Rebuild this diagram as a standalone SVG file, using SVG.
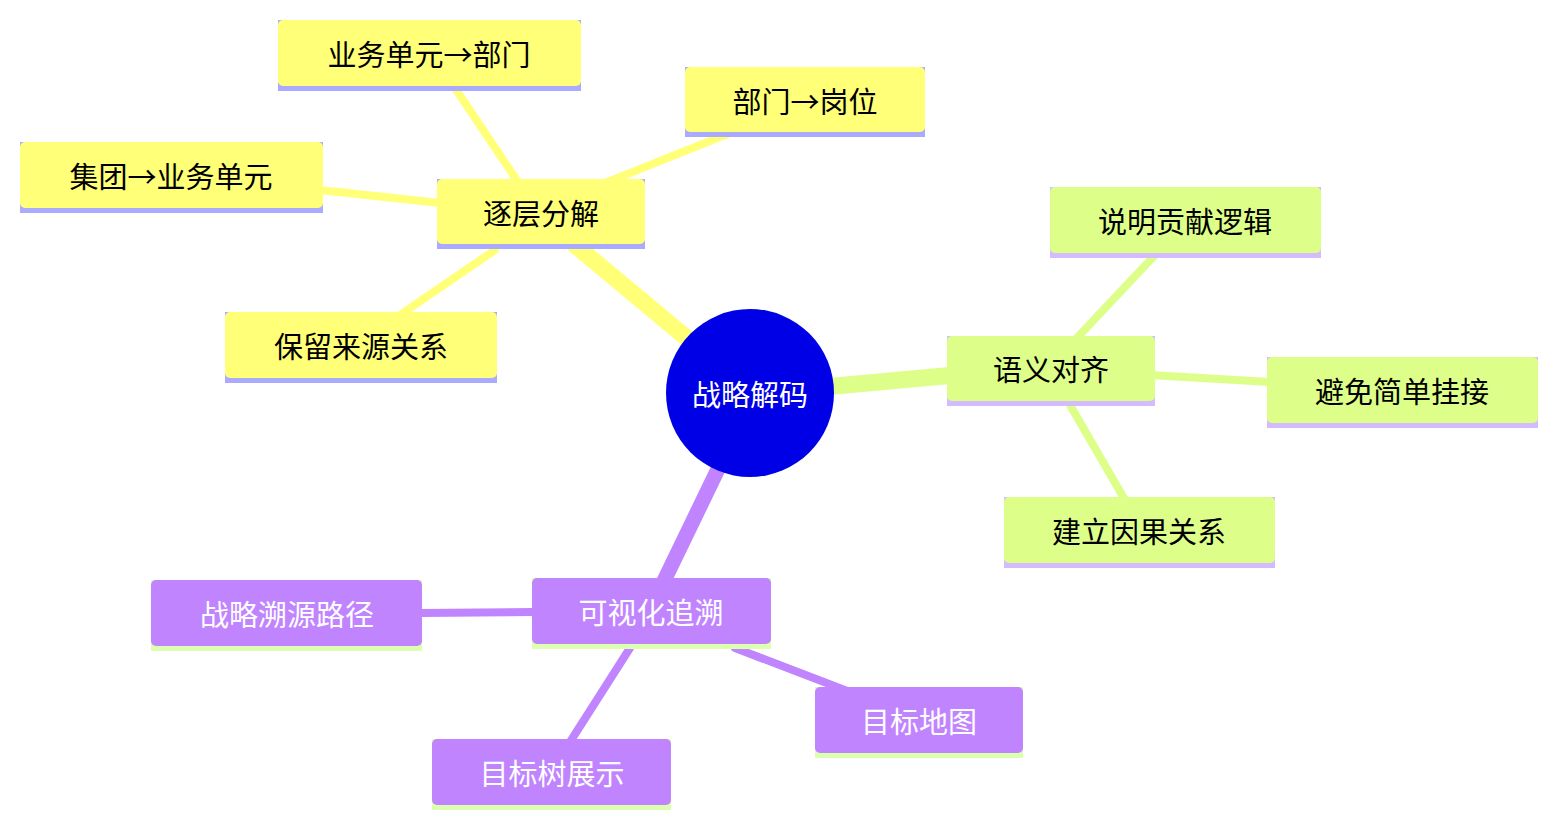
<svg xmlns="http://www.w3.org/2000/svg" width="1558" height="826" viewBox="0 0 1558 826">
<style>
text{font-family:"Noto Sans CJK SC","Noto Sans",sans-serif;font-size:29px;text-anchor:middle;dominant-baseline:central}
.y rect.b{fill:#ffff78}.y rect.u{fill:#aaaaff}.y text{fill:#000}
.g rect.b{fill:#ddff8a}.g rect.u{fill:#d4bbff}.g text{fill:#000}
.p rect.b{fill:#c184ff}.p rect.u{fill:#ddffb0}.p text{fill:#fff}
#edges line{stroke-linecap:round}
</style>
<g id="edges">
<line x1="695" y1="345" x2="575" y2="245" stroke="#ffff78" stroke-width="17"/>
<line x1="835" y1="386" x2="955" y2="375" stroke="#ddff8a" stroke-width="17"/>
<line x1="720" y1="465" x2="662" y2="585" stroke="#c184ff" stroke-width="15"/>
<line x1="520" y1="185" x2="455" y2="88" stroke="#ffff78" stroke-width="8"/>
<line x1="605" y1="183" x2="730" y2="133" stroke="#ffff78" stroke-width="8"/>
<line x1="440" y1="203" x2="320" y2="190" stroke="#ffff78" stroke-width="8"/>
<line x1="495" y1="250" x2="400" y2="315" stroke="#ffff78" stroke-width="8"/>
<line x1="1075" y1="340" x2="1155" y2="255" stroke="#ddff8a" stroke-width="8"/>
<line x1="1150" y1="375" x2="1270" y2="382" stroke="#ddff8a" stroke-width="8"/>
<line x1="1070" y1="405" x2="1125" y2="500" stroke="#ddff8a" stroke-width="8"/>
<line x1="535" y1="612" x2="420" y2="613" stroke="#c184ff" stroke-width="8"/>
<line x1="630" y1="648" x2="570" y2="742" stroke="#c184ff" stroke-width="8"/>
<line x1="735" y1="648" x2="850" y2="692" stroke="#c184ff" stroke-width="8"/>
</g>
<g id="root"><circle cx="750" cy="393" r="84" fill="#0000e6"/><text x="750" y="393" fill="#fff">战略解码</text></g>
<g id="n1" class="y"><rect class="u" x="437" y="179" width="208" height="70"/><rect class="b" x="437" y="179" width="208" height="65" rx="5"/><text x="541" y="212">逐层分解</text></g>
<g id="n2" class="y"><rect class="u" x="278" y="20" width="303" height="71"/><rect class="b" x="278" y="20" width="303" height="66" rx="5"/><text x="429" y="53">业务单元→部门</text></g>
<g id="n3" class="y"><rect class="u" x="685" y="67" width="240" height="70"/><rect class="b" x="685" y="67" width="240" height="65" rx="5"/><text x="805" y="100">部门→岗位</text></g>
<g id="n4" class="y"><rect class="u" x="20" y="142" width="303" height="71"/><rect class="b" x="20" y="142" width="303" height="66" rx="5"/><text x="171" y="175">集团→业务单元</text></g>
<g id="n5" class="y"><rect class="u" x="225" y="312" width="272" height="71"/><rect class="b" x="225" y="312" width="272" height="66" rx="5"/><text x="361" y="345">保留来源关系</text></g>
<g id="n6" class="g"><rect class="u" x="947" y="336" width="208" height="70"/><rect class="b" x="947" y="336" width="208" height="65" rx="5"/><text x="1051" y="368">语义对齐</text></g>
<g id="n7" class="g"><rect class="u" x="1050" y="187" width="271" height="71"/><rect class="b" x="1050" y="187" width="271" height="66" rx="5"/><text x="1185" y="220">说明贡献逻辑</text></g>
<g id="n8" class="g"><rect class="u" x="1267" y="357" width="271" height="71"/><rect class="b" x="1267" y="357" width="271" height="66" rx="5"/><text x="1402" y="390">避免简单挂接</text></g>
<g id="n9" class="g"><rect class="u" x="1004" y="497" width="271" height="71"/><rect class="b" x="1004" y="497" width="271" height="66" rx="5"/><text x="1139" y="530">建立因果关系</text></g>
<g id="n10" class="p"><rect class="u" x="532" y="578" width="239" height="71"/><rect class="b" x="532" y="578" width="239" height="66" rx="5"/><text x="651" y="611">可视化追溯</text></g>
<g id="n11" class="p"><rect class="u" x="151" y="580" width="271" height="71"/><rect class="b" x="151" y="580" width="271" height="66" rx="5"/><text x="287" y="613">战略溯源路径</text></g>
<g id="n12" class="p"><rect class="u" x="432" y="739" width="239" height="71"/><rect class="b" x="432" y="739" width="239" height="66" rx="5"/><text x="552" y="772">目标树展示</text></g>
<g id="n13" class="p"><rect class="u" x="815" y="687" width="208" height="71"/><rect class="b" x="815" y="687" width="208" height="66" rx="5"/><text x="919" y="720">目标地图</text></g>
</svg>
